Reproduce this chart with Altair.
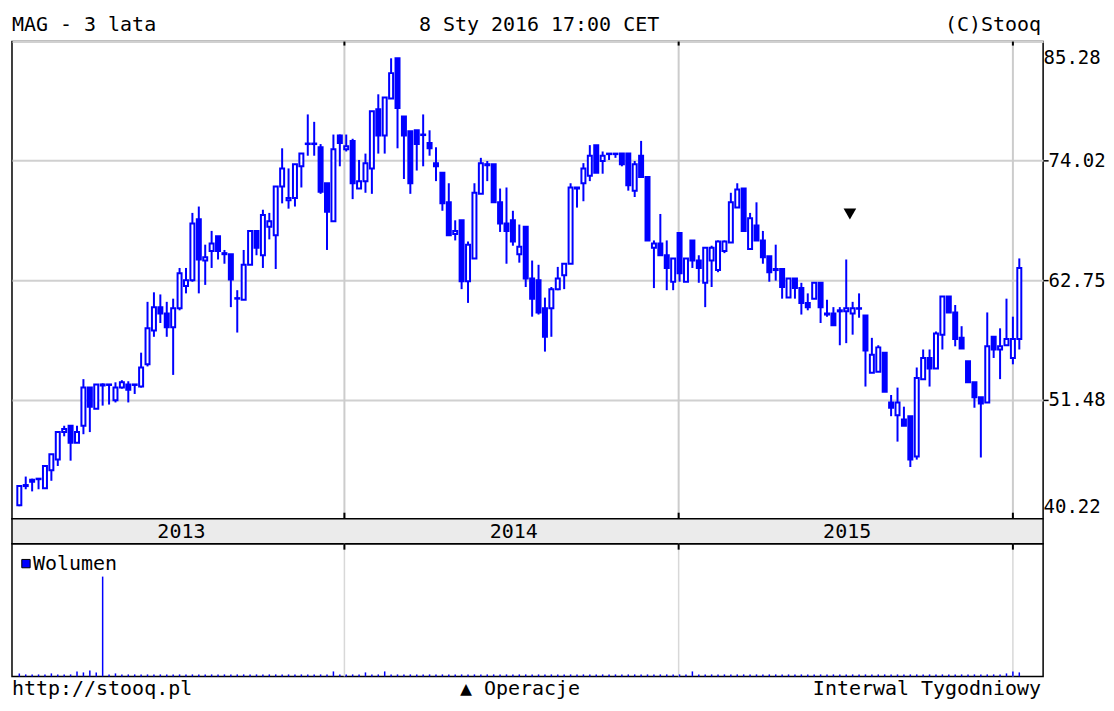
import altair as alt
import pandas as pd
import numpy as np

FONT = "DejaVu Sans Mono"
FS = 20
FS_AX = 19
BLUE = "#0000ff"

# weekly candles, 3 years
dates = pd.date_range("2013-01-11", periods=157, freq="7D")

opens = [
    41.5, 43.3, 43.7, 44.0, 43.1, 44.8, 45.8, 48.4, 49.0, 47.4,
    49.0, 52.6, 50.6, 52.8, 52.9, 51.4, 52.6, 52.9, 52.9, 52.7,
    54.8, 58.0, 60.2, 59.6, 58.3, 60.1, 62.2, 62.75, 68.5, 64.6,
    65.5, 66.9, 65.3, 65.2, 61.0, 60.9, 64.2, 67.4, 65.1, 67.8,
    67.0, 71.6, 70.3, 70.5, 73.5, 75.6, 75.6, 75.3, 71.9, 68.3,
    76.4, 75.1, 75.9, 71.4, 72.1, 73.3, 78.9, 76.4, 79.9, 83.7,
    78.2, 76.8, 76.9, 76.5, 75.7, 73.8, 72.9, 70.1, 67.1, 68.4,
    62.65, 64.8, 70.9, 73.7, 73.7, 70.1, 68.1, 68.4, 65.2, 67.8,
    62.9, 62.75, 60.1, 60.1, 61.9, 63.2, 64.3, 71.5, 71.9, 72.6,
    75.5, 74.0, 74.7, 74.7, 74.7, 74.7, 71.2, 74.5, 72.5, 65.8,
    66.2, 65.1, 62.6, 67.2, 62.6, 66.5, 64.6, 62.5, 64.6, 63.7,
    65.5, 66.3, 69.6, 71.4, 65.7, 67.9, 66.5, 65.0, 63.7, 63.8,
    61.1, 62.9, 62.0, 60.6, 61.0, 62.5, 59.6, 59.6, 59.9, 59.8,
    59.6, 60.1, 59.4, 54.0, 54.1, 55.9, 51.2, 50.0, 49.6, 49.9,
    46.1, 53.4, 55.4, 54.4, 57.6, 61.2, 59.7, 57.3, 55.1, 53.1,
    51.7, 51.2, 57.4, 56.2, 56.6, 55.4, 57.2,
]
highs = [
    43.4, 44.2, 44.0, 44.0, 45.2, 46.3, 48.4, 49.0, 49.0, 49.0,
    53.4, 52.6, 52.9, 53.0, 52.9, 53.1, 53.3, 53.2, 52.9, 55.9,
    60.7, 61.6, 61.4, 60.7, 61.0, 63.9, 63.9, 69.1, 69.7, 66.1,
    67.4, 66.9, 65.6, 65.2, 61.8, 65.6, 67.4, 67.4, 69.4, 69.1,
    71.6, 75.2, 73.3, 73.7, 74.7, 78.4, 77.7, 75.6, 71.9, 76.5,
    76.5, 76.5, 76.1, 74.1, 74.7, 78.7, 80.3, 80.0, 83.7, 83.7,
    78.2, 76.8, 76.9, 78.4, 76.9, 75.3, 72.9, 71.9, 68.4, 68.4,
    66.4, 71.9, 74.3, 74.0, 73.7, 71.4, 71.5, 69.3, 68.0, 67.8,
    64.6, 64.2, 61.1, 62.1, 64.0, 64.3, 71.9, 71.5, 73.8, 75.5,
    75.5, 74.9, 74.7, 74.7, 74.7, 74.7, 74.0, 75.9, 72.5, 66.5,
    69.0, 66.5, 64.8, 67.2, 64.8, 66.5, 65.1, 65.8, 66.0, 66.5,
    66.5, 71.0, 71.9, 71.4, 69.1, 70.1, 67.4, 65.0, 66.1, 63.8,
    62.9, 62.9, 62.5, 61.5, 62.5, 62.5, 60.9, 60.2, 60.2, 64.7,
    60.7, 61.5, 59.4, 57.3, 56.6, 55.9, 51.9, 52.6, 50.8, 49.9,
    54.5, 56.2, 56.2, 57.9, 61.2, 61.2, 60.4, 58.4, 55.1, 53.1,
    51.7, 59.7, 57.4, 58.2, 61.0, 59.3, 64.8,
]
lows = [
    41.4, 43.0, 42.8, 43.0, 43.1, 43.8, 45.2, 48.0, 45.7, 47.4,
    48.2, 48.4, 50.6, 50.9, 51.0, 51.2, 52.5, 51.2, 52.0, 52.6,
    54.6, 57.4, 58.7, 57.4, 53.8, 59.9, 61.5, 62.6, 61.5, 62.3,
    63.9, 64.7, 64.3, 60.2, 57.8, 60.9, 64.2, 65.1, 63.9, 66.6,
    63.8, 70.0, 69.5, 69.7, 71.5, 74.5, 74.5, 70.9, 65.6, 68.3,
    73.5, 74.9, 70.4, 71.4, 71.0, 70.9, 74.7, 74.7, 79.9, 75.2,
    72.3, 70.9, 73.1, 73.5, 74.5, 72.1, 69.3, 67.0, 66.5, 61.9,
    60.6, 64.8, 70.9, 72.1, 70.1, 67.3, 64.3, 66.0, 64.4, 62.1,
    59.3, 59.5, 56.0, 57.4, 61.8, 61.9, 64.3, 69.6, 70.2, 72.1,
    72.9, 72.8, 74.1, 74.3, 73.5, 71.2, 70.6, 72.5, 66.5, 62.0,
    65.1, 61.8, 61.8, 62.6, 62.6, 63.9, 62.5, 60.2, 62.1, 63.5,
    65.3, 66.3, 69.6, 67.4, 65.6, 66.5, 64.3, 62.6, 62.7, 61.0,
    61.1, 61.0, 59.5, 59.9, 61.0, 58.7, 59.3, 58.5, 56.6, 56.8,
    57.6, 59.2, 52.7, 54.0, 54.1, 52.2, 49.9, 47.5, 49.0, 45.1,
    45.8, 53.4, 52.7, 54.4, 56.2, 59.7, 56.5, 56.3, 53.1, 50.7,
    46.0, 51.2, 55.4, 53.4, 56.6, 54.8, 56.2,
]
closes = [
    43.3, 43.4, 43.9, 43.95, 45.2, 46.3, 48.4, 48.7, 47.4, 48.4,
    52.6, 50.8, 52.9, 52.9, 52.85, 52.6, 53.1, 52.4, 52.85, 54.5,
    58.2, 60.2, 59.6, 58.3, 60.1, 63.4, 62.75, 68.1, 64.7, 64.9,
    66.2, 65.5, 65.2, 62.8, 61.05, 64.2, 67.4, 65.8, 68.9, 68.3,
    71.6, 73.3, 70.5, 73.7, 74.7, 75.65, 75.65, 71.1, 69.2, 75.1,
    75.7, 75.4, 71.9, 72.1, 73.8, 78.7, 76.4, 80.0, 82.3, 79.0,
    76.4, 71.9, 75.6, 76.45, 75.2, 73.5, 70.0, 67.0, 67.4, 62.65,
    66.1, 71.0, 73.8, 73.6, 70.1, 68.1, 67.4, 66.4, 65.9, 62.9,
    61.0, 59.7, 57.4, 61.9, 62.9, 64.3, 71.5, 71.4, 73.3, 74.5,
    72.9, 74.5, 74.65, 74.65, 73.7, 71.7, 73.7, 72.5, 66.5, 66.2,
    65.1, 63.9, 64.8, 63.4, 64.8, 64.6, 63.9, 65.8, 65.8, 66.4,
    66.4, 70.1, 71.3, 67.4, 68.6, 66.5, 64.9, 63.5, 63.8, 62.1,
    62.9, 62.0, 60.6, 60.2, 62.5, 60.2, 59.5, 58.5, 59.8, 60.1,
    60.1, 60.05, 56.1, 55.7, 56.4, 52.2, 50.7, 51.2, 49.0, 45.8,
    53.5, 55.4, 54.4, 57.7, 61.2, 59.7, 57.2, 56.3, 53.1, 51.7,
    51.1, 56.5, 56.2, 56.5, 57.2, 57.2, 63.9,
]
volumes = [
    3, 2, 2, 2, 2, 3, 2, 2, 2, 5,
    4, 6, 4, 100, 2, 3, 2, 2, 2, 2,
    2, 2, 2, 2, 2, 2, 2, 2, 2, 2,
    2, 2, 2, 2, 2, 2, 2, 2, 2, 2,
    2, 2, 2, 2, 2, 2, 2, 2, 2, 5,
    2, 2, 2, 2, 4, 2, 2, 5, 2, 2,
    2, 2, 2, 2, 2, 2, 2, 2, 2, 2,
    2, 2, 2, 2, 2, 2, 2, 2, 2, 2,
    2, 2, 2, 2, 2, 2, 2, 2, 2, 2,
    2, 2, 2, 2, 2, 2, 2, 2, 2, 2,
    2, 2, 2, 2, 2, 5, 2, 2, 2, 2,
    2, 2, 2, 2, 2, 2, 2, 2, 2, 2,
    2, 2, 2, 2, 2, 2, 2, 2, 2, 2,
    2, 2, 2, 2, 2, 2, 2, 2, 2, 2,
    2, 2, 2, 2, 2, 2, 2, 2, 2, 2,
    2, 2, 2, 2, 3, 5, 4,
]

y_ticks = [40.22, 51.48, 62.75, 74.02, 85.28]
year_starts = ["2014-01-01", "2015-01-01", "2016-01-01"]
year_labels = ["2013", "2014", "2015"]
year_mids = ["2013-07-07", "2014-07-05", "2015-07-04"]
event_dates = ["2015-07-07"]
event_marks = [69.0]

header_left = "MAG - 3 lata"
header_center = "8 Sty 2016 17:00 CET"
header_right = "(C)Stooq"
footer_left = "http://stooq.pl"
footer_center = "▲ Operacje"
footer_right = "Interwal Tygodniowy"
volume_label = "Wolumen"

df = pd.DataFrame({"date": dates, "open": opens, "high": highs,
                   "low": lows, "close": closes, "volume": volumes})
df["hi"] = df[["high", "open", "close"]].max(axis=1)
df["lo"] = df[["low", "open", "close"]].min(axis=1)
df["dir"] = np.where(df["close"] >= df["open"], "up", "down")

years_df = pd.DataFrame({"date": pd.to_datetime(year_starts)})
ylab_df = pd.DataFrame({"date": pd.to_datetime(year_mids), "label": year_labels})
ev_df = pd.DataFrame({"date": pd.to_datetime(event_dates), "v": event_marks})

W = 1033
H_MAIN = 478
H_BAND = 25
H_VOL = 133

xscale = alt.Scale(domain=[alt.DateTime(year=2013, month=1, date=3),
                           alt.DateTime(year=2016, month=2, date=3)], padding=0)
X = alt.X("date:T", scale=xscale, axis=None)
yscale = alt.Scale(domain=[40.22, 85.28], nice=False, zero=False, padding=0)


def txt(s, x, y, align):
    return alt.Chart(pd.DataFrame({"t": [s]})).mark_text(
        align=align, baseline="middle", font=FONT, fontSize=FS, color="black"
    ).encode(text="t:N", x=alt.value(x), y=alt.value(y))


def year_ticks(y0, y1):
    return alt.Chart(years_df).mark_rule(color="black", strokeWidth=2).encode(
        x=X, y=alt.value(y0), y2=alt.value(y1))


base = alt.Chart(df)
ygrid = alt.Chart(df).mark_point(opacity=0).encode(
    x=X,
    y=alt.Y("close:Q", scale=yscale, axis=alt.Axis(
        orient="right", values=y_ticks, format=".2f", title=None,
        grid=True, gridColor="#d0d0d0", gridWidth=2, domain=False,
        tickColor="black", tickWidth=1.5, labelPadding=0,
        tickSize={"condition": {"test": "datum.value > 80 || datum.value < 45", "value": 0}, "value": 5},
        labelOffset={"condition": [{"test": "datum.value > 80", "value": 16},
                                   {"test": "datum.value < 45", "value": -12}], "value": 0},
        labelFont=FONT, labelFontSize=FS_AX, labelColor="black", labelFlush=False)),
)
vlines = alt.Chart(years_df).mark_rule(color="#cccccc", strokeWidth=2).encode(x=X)
wicks = base.mark_rule(color=BLUE, strokeWidth=2).encode(
    x=X, y=alt.Y("lo:Q", scale=yscale), y2="hi:Q")
bodies = base.mark_bar(size=4, stroke=BLUE, strokeWidth=2).encode(
    x=X, y=alt.Y("open:Q", scale=yscale), y2="close:Q",
    fill=alt.Fill("dir:N", scale=alt.Scale(domain=["up", "down"], range=["white", BLUE]),
                  legend=None))
events = alt.Chart(ev_df).mark_point(shape="triangle-down", filled=True, color="black",
                                     size=160, opacity=1).encode(
    x=X, y=alt.Y("v:Q", scale=yscale))

main = alt.layer(
    ygrid, vlines, year_ticks(0, 4), year_ticks(H_MAIN - 6, H_MAIN),
    wicks, bodies, events,
    txt(header_left, 0, -17, "left"),
    txt(header_center, 528, -17, "center"),
    txt(header_right, W - 2, -17, "right"),
).properties(width=W, height=H_MAIN)

band = alt.layer(
    alt.Chart(ylab_df).mark_text(font=FONT, fontSize=FS, color="black", baseline="middle").encode(
        x=X, y=alt.value(H_BAND / 2 + 1), text="label:N"),
).properties(width=W, height=H_BAND,
             view=alt.ViewBackground(fill="#ebebeb", stroke="black", strokeWidth=1.5))

vol_bars = alt.Chart(df).mark_bar(size=1.5, color=BLUE).encode(
    x=X, y=alt.Y("volume:Q", scale=alt.Scale(domain=[0, 133], padding=0), axis=None))
vol_lines = alt.Chart(years_df).mark_rule(color="#d8d8d8", strokeWidth=1.5).encode(x=X)
leg_sq = alt.Chart(pd.DataFrame({"t": [volume_label]})).mark_square(
    size=70, fill=BLUE, stroke="black", strokeWidth=1, opacity=1).encode(
    x=alt.value(14), y=alt.value(20))
vol = alt.layer(
    vol_lines, year_ticks(0, 6), vol_bars, leg_sq,
    txt(volume_label, 21, 20, "left"),
    txt(footer_left, 0, H_VOL + 13, "left"),
    txt(footer_center, 509, H_VOL + 13, "center"),
    txt(footer_right, W - 2, H_VOL + 13, "right"),
).properties(width=W, height=H_VOL)

chart = alt.vconcat(main, band, vol, spacing=0, bounds="flush").configure_view(
    stroke="black", strokeWidth=1.5
).properties(padding={"left": 3, "top": 5, "right": 0, "bottom": 0})

chart.save("out.html", embed_options={"renderer": "svg", "actions": False})
